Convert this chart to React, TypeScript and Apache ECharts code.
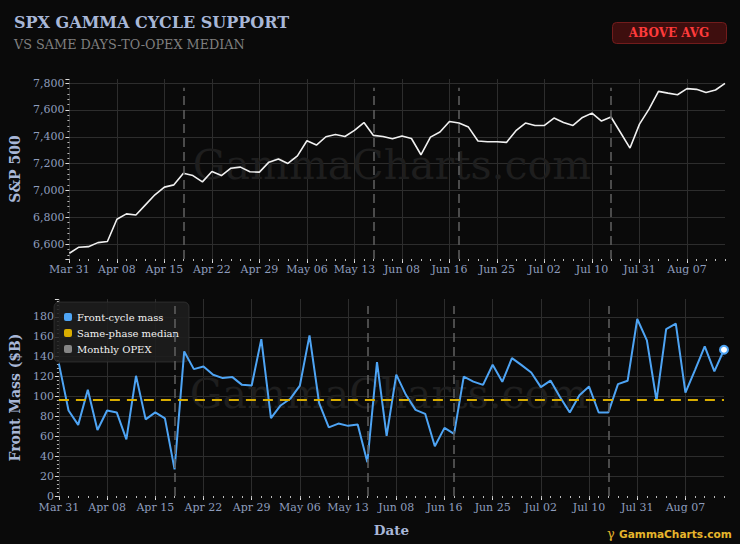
import React, { useEffect, useRef } from "react";
import * as echarts from "echarts";

const dates = [
  "Mar 31", "Apr 01", "Apr 02", "Apr 06", "Apr 07", "Apr 08", "Apr 09", "Apr 10", "Apr 13", "Apr 14",
  "Apr 15", "Apr 16", "Apr 17", "Apr 20", "Apr 21", "Apr 22", "Apr 23", "Apr 24", "Apr 27", "Apr 28",
  "Apr 29", "Apr 30", "May 01", "May 04", "May 05", "May 06", "May 07", "May 08", "May 11", "May 12",
  "May 13", "May 14", "May 15", "Jun 03", "Jun 05", "Jun 08", "Jun 09", "Jun 10", "Jun 11", "Jun 12",
  "Jun 16", "Jun 18", "Jun 22", "Jun 23", "Jun 24", "Jun 25", "Jun 26", "Jun 29", "Jun 30", "Jul 01",
  "Jul 02", "Jul 06", "Jul 07", "Jul 08", "Jul 09", "Jul 10", "Jul 13", "Jul 17", "Jul 28", "Jul 30",
  "Jul 31", "Aug 03", "Aug 04", "Aug 05", "Aug 06", "Aug 07", "Aug 10", "Aug 11", "Aug 12", "Aug 13",
];

const spx = [
  6533, 6578, 6582, 6612, 6620, 6786, 6826, 6818, 6893, 6968,
  7025, 7042, 7129, 7111, 7064, 7141, 7111, 7166, 7174, 7139,
  7137, 7211, 7234, 7201, 7258, 7370, 7338, 7400, 7417, 7402,
  7447, 7506, 7410, 7402, 7385, 7405, 7387, 7266, 7397, 7435,
  7514, 7502, 7472, 7368, 7363, 7363, 7358, 7445, 7502, 7484,
  7484, 7539, 7506, 7484, 7544, 7576, 7517, 7547, 7432, 7316,
  7494, 7606, 7738, 7725, 7713, 7758, 7753, 7730, 7748, 7797,
];

const frontMass = [
  133, 86, 71.5, 106.7, 66.4, 86, 84, 57, 120.8, 77,
  84, 78, 26.8, 145.3, 127.5, 130.2, 121.8, 118.5, 119.5, 111.7,
  111, 157.7, 78.2, 91, 97.7, 111, 161.4, 93.3, 69, 72.8,
  70.5, 71.8, 33.9, 134.6, 60.4, 122, 101.7, 86.6, 82.6, 50,
  68.5, 62.4, 120, 115, 111.7, 131.9, 114.8, 138.6, 131.5, 124.2,
  109.4, 116, 99.3, 83.9, 101.3, 110, 83.9, 83.9, 112.4, 115.8,
  177.9, 156.4, 96, 167.8, 173.2, 104, 126.8, 150.3, 125.2, 147,
];

const opexIdx = [12, 32, 41, 57];
const sameMedian = 97;

const SERIF = "'DejaVu Serif', serif";
const LABEL = "#8e9dbd";
const TITLE = "#a8b7d7";
const GRIDC = "#2d2d2d";
const BLUE = "#4ea4f4";
const GOLD = "#d9ad00";
const OPEXC = "#5c5c5c";

export default function App() {
  const ref = useRef<HTMLDivElement>(null);

  useEffect(() => {
    if (!ref.current) return;
    const chart = echarts.init(ref.current, null, { renderer: "svg" });

    const mainX = (gridIndex: number, margin: number) => ({
      type: "category",
      gridIndex,
      position: "bottom",
      data: dates,
      boundaryGap: false,
      axisLine: { show: false },
      axisTick: { show: true, interval: 4, length: 4, lineStyle: { color: "#dddddd" } },
      axisLabel: { interval: 4, color: LABEL, fontSize: 11, fontFamily: SERIF, margin },
      splitLine: { show: true, interval: 4, lineStyle: { color: GRIDC, width: 1 } },
    });
    const minorX = (gridIndex: number) => ({
      type: "category",
      gridIndex,
      position: "bottom",
      data: dates,
      boundaryGap: false,
      axisLine: { show: false },
      axisTick: { show: true, interval: 0, length: 2, lineStyle: { color: "#bbbbbb" } },
      axisLabel: { show: false },
      splitLine: { show: false },
    });

    const yCommon = {
      type: "value",
      axisLine: { show: false },
      axisTick: { show: true, length: 4, lineStyle: { color: "#dddddd" } },
      minorTick: { show: true, splitNumber: 5, length: 2, lineStyle: { color: "#bbbbbb" } },
      splitLine: { show: true, showMinLine: false, showMaxLine: false, lineStyle: { color: GRIDC } },
      nameLocation: "middle",
      nameTextStyle: { color: TITLE, fontSize: 14, fontWeight: "bold", fontFamily: SERIF },
    };

    const opexLineStyle = { color: OPEXC, type: [9, 5], width: 1.6 };

    chart.setOption({
      animation: false,
      backgroundColor: "#0a0a0a",
      textStyle: { fontFamily: SERIF },
      grid: [
        { left: 59, right: 15, top: 79, bottom: 285 },
        { left: 49, right: 16, top: 299, bottom: 48 },
      ],
      xAxis: [
        mainX(0, 5),
        minorX(0),
        {
          ...mainX(1, 6),
          name: "Date",
          nameLocation: "middle",
          nameGap: 27,
          nameTextStyle: { color: TITLE, fontSize: 13.5, fontWeight: "bold", fontFamily: SERIF },
        },
        minorX(1),
      ],
      yAxis: [
        {
          ...yCommon,
          gridIndex: 0,
          min: 6490,
          max: 7830,
          splitNumber: 7,
          name: "S&P 500",
          nameGap: 42,
          axisLabel: {
            color: LABEL,
            fontSize: 11,
            fontFamily: SERIF,
            margin: 5,
            showMinLabel: false,
            showMaxLabel: false,
            formatter: (v: number) => v.toLocaleString("en-US"),
          },
        },
        {
          ...yCommon,
          gridIndex: 1,
          min: 0,
          max: 198,
          interval: 20,
          name: "Front Mass ($B)",
          nameGap: 33,
          axisLabel: {
            color: LABEL,
            fontSize: 11,
            fontFamily: SERIF,
            margin: 5,
            showMaxLabel: false,
          },
        },
      ],
      legend: {
        data: ["Front-cycle mass", "Same-phase median", "Monthly OPEX"],
        orient: "vertical",
        left: 54,
        top: 302,
        padding: [10, 10, 8, 10],
        itemGap: 6,
        itemWidth: 8,
        itemHeight: 8,
        icon: "roundRect",
        backgroundColor: "rgba(30,30,30,0.88)",
        borderColor: "rgba(70,70,70,0.5)",
        borderWidth: 1,
        borderRadius: 5,
        textStyle: { color: "#f2f2f2", fontSize: 10, fontFamily: SERIF },
        selectedMode: false,
      },
      series: [
        {
          name: "S&P 500",
          type: "line",
          xAxisIndex: 0,
          yAxisIndex: 0,
          data: spx,
          showSymbol: false,
          color: "#f0f0f0",
          lineStyle: { color: "#f0f0f0", width: 1.6 },
          z: 3,
          markLine: {
            silent: true,
            symbol: ["none", "none"],
            label: { show: false },
            lineStyle: opexLineStyle,
            data: opexIdx.map((i) => [{ coord: [dates[i], 6490] }, { coord: [dates[i], 7765] }]),
          },
        },
        {
          name: "Front-cycle mass",
          type: "line",
          xAxisIndex: 2,
          yAxisIndex: 1,
          data: frontMass,
          showSymbol: false,
          color: BLUE,
          lineStyle: { color: BLUE, width: 2 },
          z: 4,
          markPoint: {
            silent: true,
            symbol: "circle",
            symbolSize: 8,
            label: { show: false },
            itemStyle: { color: "#ffffff", borderColor: BLUE, borderWidth: 2 },
            data: [{ coord: [dates[dates.length - 1], frontMass[frontMass.length - 1]] }],
          },
        },
        {
          name: "Same-phase median",
          type: "line",
          xAxisIndex: 2,
          yAxisIndex: 1,
          data: [],
          color: GOLD,
          z: 3,
          markLine: {
            silent: true,
            symbol: ["none", "none"],
            label: { show: false },
            lineStyle: { color: GOLD, type: [10, 7], width: 2 },
            data: [{ yAxis: sameMedian }],
          },
        },
        {
          name: "Monthly OPEX",
          type: "line",
          xAxisIndex: 2,
          yAxisIndex: 1,
          data: [],
          color: "#858585",
          z: 2,
          markLine: {
            silent: true,
            symbol: ["none", "none"],
            label: { show: false },
            lineStyle: opexLineStyle,
            data: opexIdx.map((i) => [{ coord: [dates[i], 0] }, { coord: [dates[i], 191] }]),
          },
        },
      ],
      graphic: [
        {
          type: "text",
          x: 14,
          y: 22,
          z: 10,
          style: {
            text: "SPX GAMMA CYCLE SUPPORT",
            fill: TITLE,
            fontSize: 16,
            fontWeight: "bold",
            fontFamily: SERIF,
            verticalAlign: "middle",
          },
        },
        {
          type: "text",
          x: 14,
          y: 44,
          z: 10,
          style: {
            text: "VS SAME DAYS-TO-OPEX MEDIAN",
            fill: "#7f7f7f",
            fontSize: 12.8,
            fontFamily: SERIF,
            verticalAlign: "middle",
          },
        },
        {
          type: "rect",
          left: 612,
          top: 22,
          z: 10,
          shape: { width: 114, height: 21, r: 4 },
          style: { fill: "#3e0e0e", stroke: "#721c1c", lineWidth: 1 },
        },
        {
          type: "text",
          x: 669,
          y: 33,
          z: 11,
          style: {
            text: "ABOVE AVG",
            fill: "#ff3b3b",
            fontSize: 12,
            fontWeight: "bold",
            fontFamily: SERIF,
            align: "center",
            verticalAlign: "middle",
          },
        },
        {
          type: "text",
          x: 392,
          y: 165,
          z: 1,
          silent: true,
          style: {
            text: "GammaCharts.com",
            fill: "#1e1e1e",
            fontSize: 41,
            fontFamily: SERIF,
            align: "center",
            verticalAlign: "middle",
          },
        },
        {
          type: "text",
          x: 389,
          y: 394,
          z: 1,
          silent: true,
          style: {
            text: "GammaCharts.com",
            fill: "#1e1e1e",
            fontSize: 41,
            fontFamily: SERIF,
            align: "center",
            verticalAlign: "middle",
          },
        },
        {
          type: "text",
          x: 607,
          y: 533,
          z: 10,
          style: { text: "γ", fill: "#e2b42a", fontSize: 13, fontFamily: SERIF, verticalAlign: "middle" },
        },
        {
          type: "text",
          x: 619,
          y: 534,
          z: 10,
          style: {
            text: "GammaCharts.com",
            fill: "#e6b52c",
            fontSize: 10.6,
            fontWeight: "bold",
            fontFamily: "'DejaVu Sans', sans-serif",
            verticalAlign: "middle",
          },
        },
      ],
    });

    return () => chart.dispose();
  }, []);

  return (
    <div
      ref={ref}
      style={{ position: "fixed", left: 0, top: 0, width: 740, height: 544, background: "#0a0a0a" }}
    />
  );
}
